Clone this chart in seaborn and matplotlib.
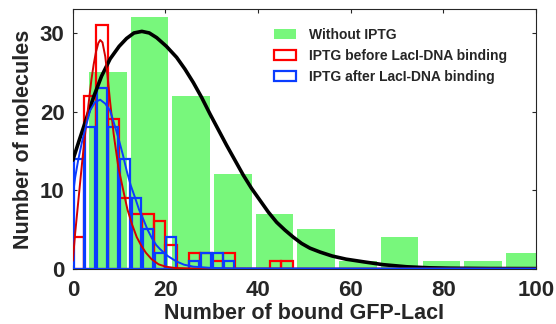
import numpy as np
import pandas as pd
import matplotlib
matplotlib.use("Agg")
import matplotlib.pyplot as plt
from matplotlib.patches import Patch
import seaborn as sns

# Histogram counts: cells without IPTG (wide bins)
green_centers = [7.55, 16.55, 25.55, 34.55, 43.55, 52.55, 61.55, 70.55, 79.55, 88.55, 97.55]
green_counts = [25, 32, 22, 12, 7, 5, 1, 4, 1, 1, 2]

# Histogram counts with IPTG (narrow bins)
fine_centers = [1.25, 3.75, 6.25, 8.75, 11.25, 13.75, 16.25, 18.75, 21.25, 23.75,
                26.25, 28.75, 31.25, 33.75, 36.25, 38.75, 41.25, 43.75, 46.25]
red_counts = [4, 22, 31, 19, 9, 7, 7, 6, 3, 0, 2, 2, 1, 2, 0, 0, 0, 1, 1]
blue_counts = [14, 18, 23, 18, 14, 9, 5, 2, 4, 0, 1, 2, 2, 1, 0, 0, 0, 0, 0]

# Fitted distribution curves
black_x = [0, 1.3, 2.65, 4.45, 6.2, 8.05, 10, 11.6, 13.2, 14.9, 16.5, 18.1, 20.2, 22.4,
           24.2, 26.0, 27.8, 29.6, 31.4, 33.2, 35.0, 36.8, 38.6, 40.4, 42.2, 44.0, 45.8,
           47.6, 49.4, 51.2, 53.4, 56, 59, 62.8, 67, 72.1, 77, 81.5, 90, 100]
black_y = [13.8, 16.2, 18.6, 21.8, 24.5, 26.7, 28.3, 29.3, 30.0, 30.2, 30.0, 29.4, 28.3, 26.9,
           25.4, 23.7, 21.8, 19.7, 17.7, 15.7, 13.8, 11.9, 10.2, 8.7, 7.2, 5.9, 4.9,
           4.0, 3.2, 2.6, 2.1, 1.6, 1.2, 0.86, 0.5, 0.23, 0.1, 0.05, 0.01, 0]

red_x = [0, 0.5, 1.0, 1.5, 2.0, 2.5, 3.0, 3.5, 4.0, 4.5, 5.0, 5.5, 5.9, 6.4, 7.0, 7.5,
         8.0, 8.8, 9.8, 10.8, 11.8, 12.8, 13.8, 14.8, 15.8, 17.0, 18.5, 20, 22, 25, 30, 100]
red_y = [1.0, 4.5, 7.5, 10.5, 13.5, 16.3, 19.0, 21.5, 24.0, 26.0, 27.6, 28.7, 29.1, 28.8, 27.0, 24.5,
         21.5, 17.2, 13.0, 10.2, 7.5, 5.6, 4.0, 2.9, 2.0, 1.2, 0.55, 0.25, 0.08, 0.02, 0, 0]

blue_x = [0, 0.5, 1.15, 2.0, 2.6, 3.7, 4.8, 5.9, 7.0, 8.05, 9.0, 9.85, 10.8, 11.65, 12.5,
          13.45, 14.3, 15.2, 16.1, 17.05, 18.0, 18.8, 20.5, 22.4, 24, 26, 30, 35, 100]
blue_y = [9.3, 11.6, 13.8, 16.2, 17.6, 20.1, 21.2, 21.5, 21.0, 20.1, 18.3, 16.6, 14.5, 12.4, 10.6,
          9.0, 7.5, 6.3, 5.0, 3.9, 3.0, 2.5, 1.6, 0.9, 0.5, 0.25, 0.08, 0.02, 0]

legend_labels = ["Without IPTG", "IPTG before LacI-DNA binding", "IPTG after LacI-DNA binding"]

GREEN = "#78f77c"
RED = "#ff0000"
DARKRED = "#d40000"
BLUE = "#0a3cff"

sns.set_style("ticks")
plt.rcParams["font.family"] = ["Liberation Sans", "DejaVu Sans"]
plt.rcParams["font.weight"] = "bold"

fig = plt.figure(figsize=(5.56, 3.24), dpi=100)
ax = fig.add_axes([0.131, 0.171, 0.833, 0.800])

# Bars on a numeric x axis (native_scale keeps the bin centres as data values)
sns.barplot(x=green_centers, y=green_counts, native_scale=True, width=0.9,
            color=GREEN, saturation=1, edgecolor="none", linewidth=0,
            errorbar=None, ax=ax, zorder=1)
sns.barplot(x=fine_centers, y=red_counts, native_scale=True, width=1.0,
            fill=False, color=RED, saturation=1, linewidth=1.6,
            errorbar=None, ax=ax, zorder=2)
sns.barplot(x=fine_centers, y=blue_counts, native_scale=True, width=0.86,
            fill=False, color=BLUE, saturation=1, linewidth=1.6,
            errorbar=None, ax=ax, zorder=3)

sns.lineplot(x=black_x, y=black_y, sort=False, estimator=None, color="black",
             linewidth=2.6, ax=ax, zorder=4)
sns.lineplot(x=red_x, y=red_y, sort=False, estimator=None, color=DARKRED,
             linewidth=1.4, ax=ax, zorder=5)
sns.lineplot(x=blue_x, y=blue_y, sort=False, estimator=None, color=BLUE,
             linewidth=1.4, ax=ax, zorder=6)

ax.set_xlim(0, 100)
ax.set_ylim(0, 33)
ax.set_xticks([0, 20, 40, 60, 80, 100])
ax.set_xticklabels(["0", "20", "40", "60", "80", "100"])
ax.set_yticks([0, 10, 20, 30])
ax.tick_params(direction="in", length=3, width=0.8, top=True, right=True,
               labelsize=16, pad=6)
ax.tick_params(axis="x", pad=8)
for lab in ax.get_xticklabels() + ax.get_yticklabels():
    lab.set_fontweight("bold")
for sp in ax.spines.values():
    sp.set_linewidth(0.8)
    sp.set_visible(True)

ax.set_xlabel("Number of bound GFP-LacI", fontsize=15.5, fontweight="bold", labelpad=2)
ax.set_ylabel("Number of molecules", fontsize=15.5, fontweight="bold", labelpad=4)

handles = [Patch(facecolor=GREEN, edgecolor="none"),
           Patch(facecolor="none", edgecolor=RED, linewidth=1.6),
           Patch(facecolor="none", edgecolor=BLUE, linewidth=1.6)]
ax.legend(handles, legend_labels, loc="upper left", bbox_to_anchor=(0.419, 0.955),
          frameon=False, borderpad=0, labelspacing=0.5,
          handlelength=1.6, handleheight=0.65, handletextpad=0.9,
          prop={"weight": "bold", "size": 10})

fig.savefig("out.png", dpi=100)
